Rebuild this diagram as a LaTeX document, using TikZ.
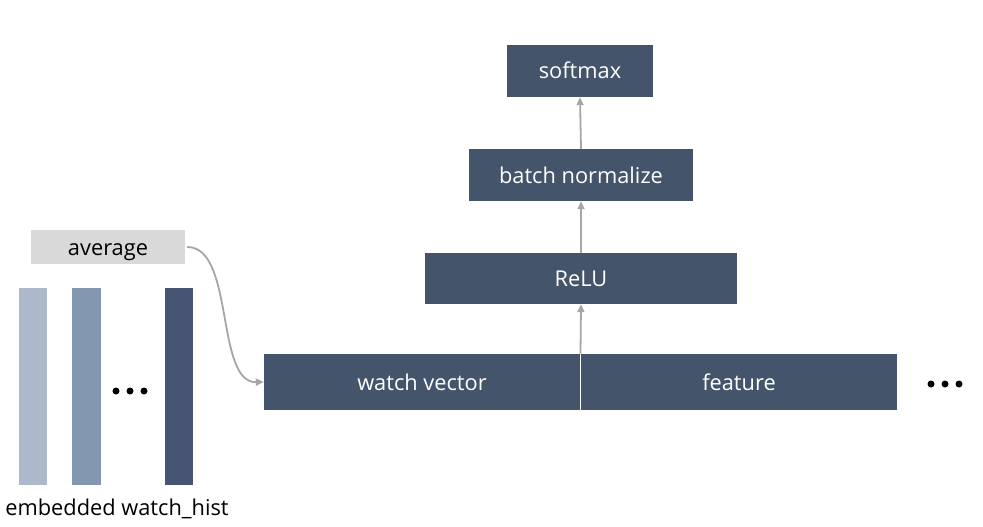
\documentclass[tikz,border=0pt]{standalone}
\usepackage{fontspec}
\setmainfont{Open Sans}
\usetikzlibrary{arrows.meta}
\definecolor{boxc}{HTML}{44546A}
\definecolor{arrc}{HTML}{A6A6A6}
\definecolor{avgc}{HTML}{D9D9D9}
\definecolor{barA}{HTML}{ADB9CA}
\definecolor{barB}{HTML}{8497B0}
\definecolor{barC}{HTML}{475473}
\begin{document}
\begin{tikzpicture}[x=1pt,y=-1pt,
  txt/.style={font=\fontsize{21.8}{24}\selectfont,text height=18pt,text depth=2pt},
  blk/.style={txt,fill=boxc,text=white,inner sep=0pt},
  conn/.style={draw=arrc,line width=1.8pt,-{Triangle[length=8pt,width=7pt]}},
  dotc/.style={circle,fill=black,inner sep=0pt,minimum size=7pt}]
\useasboundingbox (0,0) rectangle (983,527);
\node[blk,minimum width=146pt,minimum height=52pt] (soft) at (580,71) {softmax};
\node[blk,minimum width=224pt,minimum height=52pt] (bn) at (581,175) {batch normalize};
\node[blk,minimum width=312pt,minimum height=51pt] (relu) at (581,278.5) {ReLU};
\node[blk,minimum width=316pt,minimum height=56pt] (wv) at (422,382) {watch vector};
\node[blk,minimum width=316pt,minimum height=56pt] (feat) at (739,382) {feature};
\node[txt,fill=avgc,inner sep=0pt,minimum width=154pt,minimum height=34pt] (avg) at (108,247) {average};
\fill[barA] (19,288) rectangle (47,485);
\fill[barB] (72,288) rectangle (101,485);
\fill[barC] (165,288) rectangle (193,485);
\node[dotc] (d1) at (116,391) {};
\node[dotc] (d2) at (130,391) {};
\node[dotc] (d3) at (144,391) {};
\node[dotc] (e1) at (931,384) {};
\node[dotc] (e2) at (945,384) {};
\node[dotc] (e3) at (959,384) {};
\node[font=\fontsize{21.8}{24}\selectfont,anchor=base] (lbl) at (117,515) {embedded watch\_hist};
\coordinate (mid) at (580.5,354);
\draw[conn] (mid) -- (relu.south);
\draw[conn] (relu.north -| bn.south) -- (bn.south);
\draw[conn] (bn.north) -- (soft.south);
\draw[conn] (avg.east) ++(2,0) .. controls (235,247) and (215,383) .. (wv.west);
\end{tikzpicture}
\end{document}
